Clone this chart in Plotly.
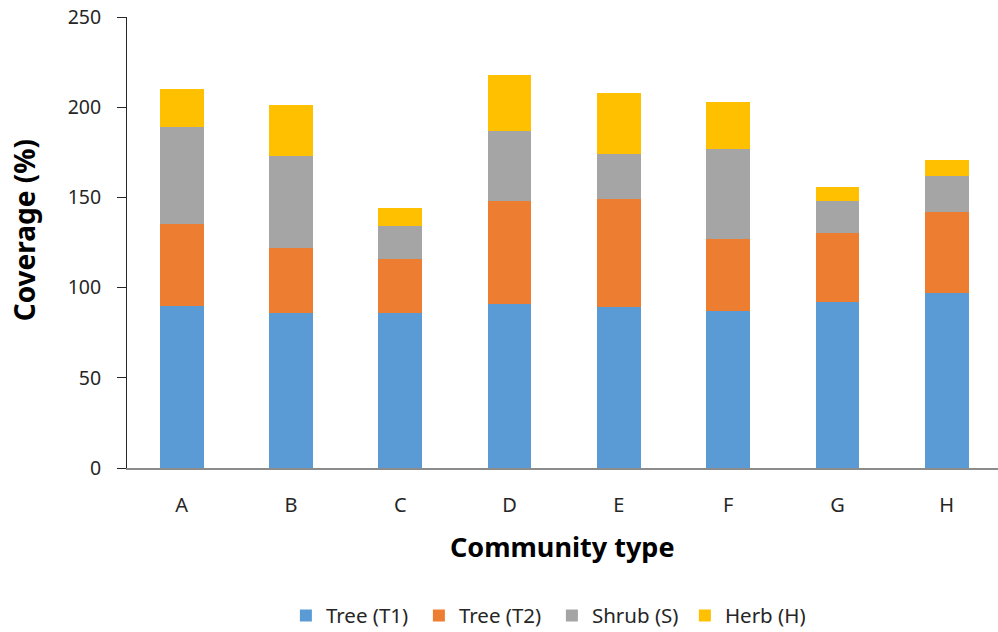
import plotly.graph_objects as go

# Community types and coverage (%) per vegetation layer
communities = ["A", "B", "C", "D", "E", "F", "G", "H"]
tree_t1 = [90, 86, 86, 91, 89, 87, 92, 97]
tree_t2 = [45, 36, 30, 57, 60, 40, 38, 45]
shrub_s = [54, 51, 18, 39, 25, 50, 18, 20]
herb_h = [21, 28, 10, 31, 34, 26, 8, 9]

series = [
    ("Tree (T1)", tree_t1, "#5B9BD5"),
    ("Tree (T2)", tree_t2, "#ED7D31"),
    ("Shrub (S)", shrub_s, "#A5A5A5"),
    ("Herb (H)", herb_h, "#FFC000"),
]

FONT = "Noto Sans, Open Sans, DejaVu Sans, sans-serif"

fig = go.Figure()
for name, vals, color in series:
    fig.add_trace(go.Bar(
        x=communities, y=vals, name=name,
        marker=dict(color=color, line=dict(width=0)),
    ))

fig.update_layout(
    width=998, height=632,
    barmode="stack", bargap=0.6,
    plot_bgcolor="white", paper_bgcolor="white",
    margin=dict(l=127, r=0, t=17, b=164),
    font=dict(family=FONT, size=19, color="#262626"),
    showlegend=True,
    legend=dict(
        orientation="h", xref="container", yref="container",
        x=0.553, y=0.026, xanchor="center", yanchor="middle",
        font=dict(size=20.5, color="#262626"),
        itemwidth=30, traceorder="normal",
        entrywidth=88, entrywidthmode="pixels",
    ),
    xaxis=dict(
        range=[-0.5, 7.469], showline=True, linecolor="#8C8C8C", linewidth=2,
        ticks="", showgrid=False, zeroline=False,
        tickfont=dict(size=20), ticklabelstandoff=18,
    ),
    yaxis=dict(
        range=[0, 250], tickvals=[0, 50, 100, 150, 200, 250],
        showline=True, linecolor="#262626", linewidth=1,
        ticks="outside", ticklen=9, tickcolor="#262626",
        showgrid=False, zeroline=False,
        tickfont=dict(size=19.5), ticklabelstandoff=12,
    ),
    annotations=[
        dict(text="<b>Community type</b>", xref="paper", yref="paper",
             x=0.5, y=-0.175, xanchor="center", yanchor="middle",
             showarrow=False, font=dict(size=27, color="#000000")),
        dict(text="<b>Coverage (%)</b>", xref="paper", yref="paper",
             x=-0.1188, y=0.526, xanchor="center", yanchor="middle",
             textangle=-90, showarrow=False,
             font=dict(size=28, color="#000000")),
    ],
)

fig.write_html("out.html")
